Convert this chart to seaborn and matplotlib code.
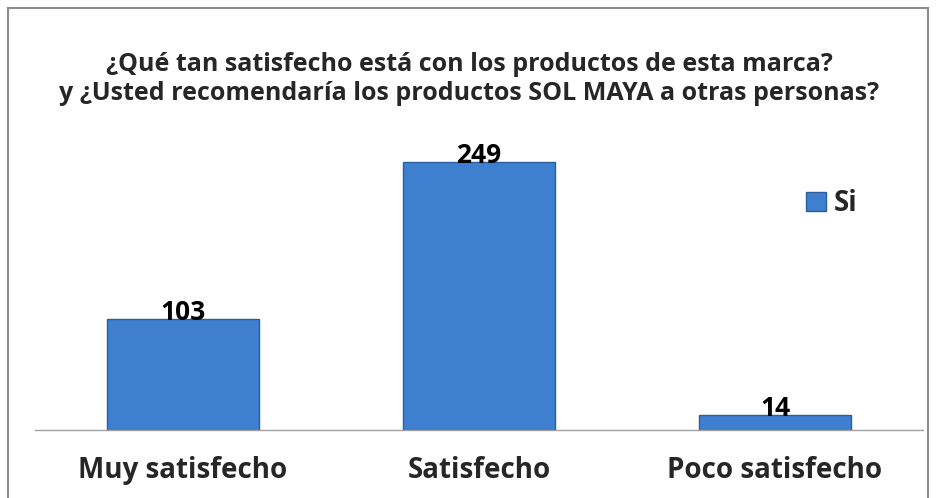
import matplotlib
matplotlib.use("Agg")
import matplotlib.pyplot as plt
import seaborn as sns
import pandas as pd
from matplotlib.patches import Rectangle

categories = ["Muy satisfecho", "Satisfecho", "Poco satisfecho"]
values = [103, 249, 14]
series_name = "Si"
title = "¿Qué tan satisfecho está con los productos de esta marca?\ny ¿Usted recomendaría los productos SOL MAYA a otras personas?"

df = pd.DataFrame({"cat": categories, "val": values, "serie": series_name})

sns.set_style("white")
plt.rcParams['font.family'] = ['Open Sans', 'DejaVu Sans']

W, H = 938, 498
fig = plt.figure(figsize=(W/100, H/100), dpi=100)
ax = fig.add_axes([35/W, 1-430/H, 888/W, 323/H])

sns.barplot(data=df, x="cat", y="val", hue="serie", palette=["#3F7FCF"], saturation=1,
            width=0.515, ax=ax, edgecolor="#2C5E9F", linewidth=1.0, legend=True)
ax.set_xlim(-0.5, 2.5)
ax.set_ylim(0, 300)
for c in ax.containers:
    ax.bar_label(c, labels=[str(v) for v in values], padding=-5,
                 fontsize=19, fontweight="bold", color="black")

ax.set_xlabel("")
ax.set_ylabel("")
ax.set_yticks([])
ax.tick_params(axis="x", length=0, pad=19, labelsize=20)
for lab in ax.get_xticklabels():
    lab.set_fontweight("bold")
for s in ["top", "right", "left"]:
    ax.spines[s].set_visible(False)
ax.spines["bottom"].set_color("#A0A0A0")
ax.spines["bottom"].set_linewidth(1.0)

leg = ax.legend(loc="upper left", bbox_to_anchor=((795-35)/888, (430-178)/323),
                frameon=False, prop={"weight": "bold", "size": 20},
                handlelength=0.7, handleheight=0.7, handletextpad=0.3, borderaxespad=0)

fig.text(0.5, 1-79/H, title, ha="center", va="center", fontsize=18,
         fontweight="bold", linespacing=1.25)

fig.patches.append(Rectangle((8/W, -0.01), 920/W, 1-8/H+0.01, transform=fig.transFigure,
                             fill=False, edgecolor="#8C8C8C", linewidth=1.5))

fig.savefig("out.png", dpi=100)
